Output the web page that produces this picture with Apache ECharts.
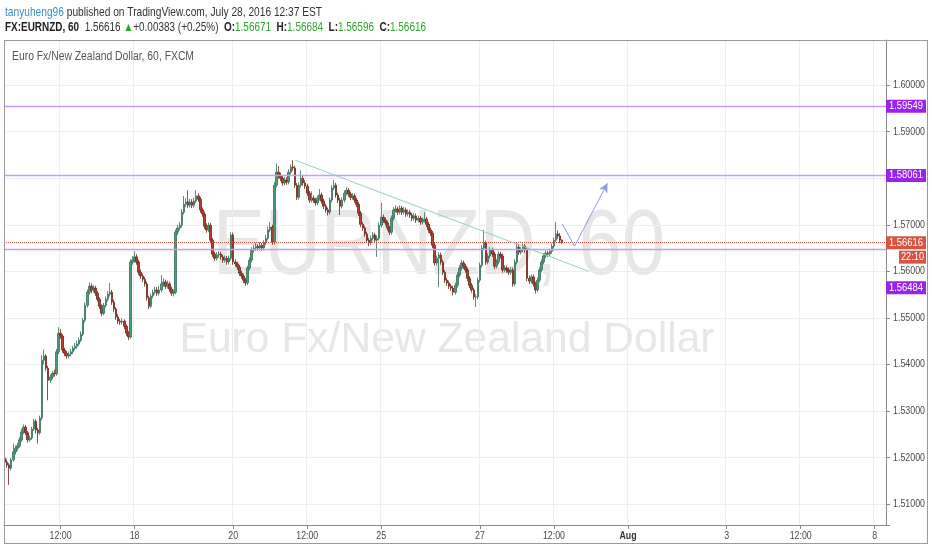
<!DOCTYPE html>
<html><head><meta charset="utf-8">
<script src="https://cdn.jsdelivr.net/npm/echarts@6/dist/echarts.min.js"></script>
<style>html,body{margin:0;padding:0;background:#fff}#c{width:932px;height:550px}</style>
</head><body><div id="c"></div>
<script>
// ---- data ----
const tradingDays = ['Jul 13','Jul 14','Jul 15','Jul 18','Jul 19','Jul 20','Jul 21','Jul 22','Jul 25','Jul 26','Jul 27','Jul 28','Jul 29','Aug 1','Aug 2','Aug 3','Aug 4','Aug 5','Aug 8'];
const firstDayStartHour = 9;
const lastDayEndHour = 5;
const xTickLabels = {'Jul 14 12:00':'12:00','Jul 18 00:00':'18','Jul 20 00:00':'20','Jul 21 12:00':'12:00','Jul 25 00:00':'25','Jul 27 00:00':'27','Jul 28 12:00':'12:00','Aug 1 00:00':'Aug','Aug 3 00:00':'3','Aug 4 12:00':'12:00','Aug 8 00:00':'8'};
const yTickValues = [1.51, 1.52, 1.53, 1.54, 1.55, 1.56, 1.57, 1.58, 1.59, 1.60];
// [open, close, low, high] hourly EUR/NZD
const candles = [
[1.5199,1.5190,1.5186,1.5204],[1.5190,1.5184,1.5178,1.5196],[1.5184,1.5177,1.5141,1.5188],[1.5177,1.5195,1.5172,1.5199],[1.5195,1.5212,1.5191,1.5230],
[1.5212,1.5220,1.5206,1.5226],[1.5220,1.5225,1.5214,1.5231],[1.5225,1.5238,1.5221,1.5244],[1.5238,1.5255,1.5233,1.5262],[1.5255,1.5265,1.5250,1.5271],
[1.5265,1.5253,1.5248,1.5270],[1.5253,1.5238,1.5232,1.5257],[1.5238,1.5242,1.5234,1.5247],[1.5242,1.5261,1.5238,1.5266],[1.5261,1.5278,1.5257,1.5283],
[1.5278,1.5259,1.5252,1.5282],[1.5259,1.5253,1.5230,1.5264],[1.5253,1.5285,1.5249,1.5290],[1.5285,1.5409,1.5280,1.5420],[1.5409,1.5418,1.5400,1.5432],
[1.5418,1.5392,1.5386,1.5422],[1.5392,1.5366,1.5323,1.5397],[1.5366,1.5373,1.5360,1.5379],[1.5373,1.5381,1.5368,1.5386],[1.5381,1.5380,1.5374,1.5389],
[1.5380,1.5427,1.5376,1.5433],[1.5427,1.5467,1.5422,1.5480],[1.5467,1.5461,1.5455,1.5476],[1.5461,1.5431,1.5425,1.5465],[1.5431,1.5424,1.5418,1.5436],
[1.5424,1.5418,1.5412,1.5429],[1.5418,1.5422,1.5413,1.5428],[1.5422,1.5427,1.5417,1.5433],[1.5427,1.5435,1.5422,1.5440],[1.5435,1.5439,1.5430,1.5446],
[1.5439,1.5444,1.5433,1.5451],[1.5444,1.5452,1.5440,1.5458],[1.5452,1.5465,1.5448,1.5471],[1.5465,1.5495,1.5461,1.5500],[1.5495,1.5527,1.5490,1.5533],
[1.5527,1.5555,1.5522,1.5561],[1.5555,1.5568,1.5550,1.5576],[1.5568,1.5560,1.5553,1.5574],[1.5560,1.5564,1.5555,1.5570],[1.5564,1.5553,1.5547,1.5569],
[1.5553,1.5540,1.5535,1.5558],[1.5540,1.5525,1.5519,1.5544],[1.5525,1.5510,1.5504,1.5529],[1.5510,1.5527,1.5506,1.5532],[1.5527,1.5540,1.5522,1.5546],
[1.5540,1.5551,1.5535,1.5558],[1.5551,1.5555,1.5546,1.5575],[1.5555,1.5534,1.5528,1.5560],[1.5534,1.5519,1.5513,1.5539],[1.5519,1.5502,1.5496,1.5523],
[1.5502,1.5493,1.5487,1.5508],[1.5493,1.5491,1.5485,1.5498],[1.5491,1.5493,1.5486,1.5499],[1.5493,1.5482,1.5476,1.5497],[1.5482,1.5467,1.5461,1.5486],
[1.5467,1.5459,1.5452,1.5472],[1.5459,1.5620,1.5455,1.5626],[1.5620,1.5624,1.5614,1.5633],[1.5624,1.5631,1.5618,1.5643],[1.5631,1.5620,1.5614,1.5637],
[1.5620,1.5598,1.5592,1.5625],[1.5598,1.5590,1.5584,1.5604],[1.5590,1.5583,1.5577,1.5595],[1.5583,1.5573,1.5567,1.5588],[1.5573,1.5543,1.5537,1.5578],
[1.5543,1.5525,1.5519,1.5548],[1.5525,1.5547,1.5521,1.5553],[1.5547,1.5555,1.5542,1.5561],[1.5555,1.5560,1.5550,1.5567],[1.5560,1.5553,1.5547,1.5566],
[1.5553,1.5560,1.5548,1.5569],[1.5560,1.5573,1.5555,1.5592],[1.5573,1.5577,1.5567,1.5585],[1.5577,1.5568,1.5562,1.5582],[1.5568,1.5573,1.5563,1.5580],
[1.5573,1.5562,1.5556,1.5578],[1.5562,1.5553,1.5547,1.5567],[1.5553,1.5555,1.5546,1.5561],[1.5555,1.5684,1.5551,1.5690],[1.5684,1.5693,1.5678,1.5700],
[1.5693,1.5699,1.5688,1.5706],[1.5699,1.5727,1.5694,1.5734],[1.5727,1.5744,1.5722,1.5762],[1.5744,1.5749,1.5738,1.5757],[1.5749,1.5742,1.5736,1.5774],
[1.5742,1.5749,1.5737,1.5756],[1.5749,1.5742,1.5736,1.5755],[1.5742,1.5751,1.5737,1.5758],[1.5751,1.5762,1.5746,1.5774],[1.5762,1.5755,1.5749,1.5768],
[1.5755,1.5732,1.5726,1.5760],[1.5732,1.5723,1.5717,1.5737],[1.5723,1.5697,1.5691,1.5728],[1.5697,1.5689,1.5683,1.5703],[1.5689,1.5699,1.5684,1.5705],
[1.5699,1.5667,1.5660,1.5704],[1.5667,1.5637,1.5631,1.5672],[1.5637,1.5628,1.5622,1.5642],[1.5628,1.5635,1.5623,1.5641],[1.5635,1.5637,1.5629,1.5643],
[1.5637,1.5631,1.5625,1.5642],[1.5631,1.5624,1.5618,1.5636],[1.5624,1.5628,1.5619,1.5634],[1.5628,1.5620,1.5614,1.5633],[1.5620,1.5628,1.5615,1.5634],
[1.5628,1.5678,1.5623,1.5684],[1.5678,1.5620,1.5614,1.5683],[1.5620,1.5616,1.5610,1.5626],[1.5616,1.5609,1.5603,1.5621],[1.5609,1.5596,1.5590,1.5614],
[1.5596,1.5590,1.5584,1.5601],[1.5590,1.5581,1.5575,1.5595],[1.5581,1.5575,1.5569,1.5586],[1.5575,1.5607,1.5570,1.5612],[1.5607,1.5624,1.5602,1.5630],
[1.5624,1.5646,1.5619,1.5652],[1.5646,1.5650,1.5640,1.5657],[1.5650,1.5654,1.5644,1.5661],[1.5654,1.5650,1.5644,1.5659],[1.5650,1.5656,1.5645,1.5663],
[1.5656,1.5650,1.5644,1.5661],[1.5650,1.5661,1.5645,1.5667],[1.5661,1.5671,1.5656,1.5678],[1.5671,1.5689,1.5666,1.5696],[1.5689,1.5695,1.5684,1.5706],
[1.5695,1.5663,1.5657,1.5700],[1.5663,1.5785,1.5658,1.5792],[1.5785,1.5813,1.5780,1.5832],[1.5813,1.5805,1.5799,1.5826],[1.5805,1.5800,1.5794,1.5812],
[1.5800,1.5790,1.5784,1.5806],[1.5790,1.5796,1.5785,1.5803],[1.5796,1.5792,1.5786,1.5802],[1.5792,1.5813,1.5787,1.5819],[1.5813,1.5824,1.5808,1.5830],
[1.5824,1.5822,1.5816,1.5839],[1.5822,1.5785,1.5779,1.5827],[1.5785,1.5759,1.5753,1.5790],[1.5759,1.5785,1.5754,1.5791],[1.5785,1.5800,1.5780,1.5817],
[1.5800,1.5790,1.5784,1.5806],[1.5790,1.5783,1.5777,1.5796],[1.5783,1.5768,1.5762,1.5788],[1.5768,1.5753,1.5747,1.5773],[1.5753,1.5757,1.5748,1.5772],
[1.5757,1.5753,1.5747,1.5763],[1.5753,1.5747,1.5741,1.5758],[1.5747,1.5757,1.5742,1.5763],[1.5757,1.5764,1.5752,1.5777],[1.5764,1.5751,1.5745,1.5769],
[1.5751,1.5740,1.5734,1.5756],[1.5740,1.5732,1.5726,1.5745],[1.5732,1.5727,1.5720,1.5737],[1.5727,1.5753,1.5722,1.5759],[1.5753,1.5779,1.5748,1.5785],
[1.5779,1.5785,1.5774,1.5796],[1.5785,1.5764,1.5758,1.5790],[1.5764,1.5753,1.5747,1.5769],[1.5753,1.5740,1.5721,1.5758],[1.5740,1.5753,1.5735,1.5759],
[1.5753,1.5768,1.5748,1.5774],[1.5768,1.5774,1.5763,1.5781],[1.5774,1.5766,1.5760,1.5779],[1.5766,1.5759,1.5753,1.5771],[1.5759,1.5762,1.5754,1.5768],
[1.5762,1.5753,1.5747,1.5767],[1.5753,1.5744,1.5738,1.5758],[1.5744,1.5725,1.5719,1.5749],[1.5725,1.5701,1.5695,1.5730],[1.5701,1.5693,1.5687,1.5706],
[1.5693,1.5680,1.5674,1.5698],[1.5680,1.5667,1.5661,1.5685],[1.5667,1.5661,1.5654,1.5672],[1.5661,1.5671,1.5656,1.5677],[1.5671,1.5678,1.5666,1.5684],
[1.5678,1.5667,1.5661,1.5683],[1.5667,1.5671,1.5631,1.5677],[1.5671,1.5699,1.5666,1.5705],[1.5699,1.5716,1.5694,1.5747],[1.5716,1.5710,1.5704,1.5722],
[1.5710,1.5704,1.5698,1.5716],[1.5704,1.5693,1.5687,1.5709],[1.5693,1.5684,1.5678,1.5698],[1.5684,1.5714,1.5679,1.5720],[1.5714,1.5732,1.5709,1.5738],
[1.5732,1.5734,1.5726,1.5742],[1.5734,1.5727,1.5721,1.5739],[1.5727,1.5736,1.5722,1.5742],[1.5736,1.5727,1.5721,1.5741],[1.5727,1.5732,1.5722,1.5738],
[1.5732,1.5723,1.5717,1.5737],[1.5723,1.5727,1.5718,1.5733],[1.5727,1.5721,1.5715,1.5732],[1.5721,1.5714,1.5708,1.5726],[1.5714,1.5719,1.5709,1.5725],
[1.5719,1.5710,1.5704,1.5724],[1.5710,1.5714,1.5705,1.5720],[1.5714,1.5706,1.5700,1.5719],[1.5706,1.5710,1.5701,1.5716],[1.5710,1.5712,1.5705,1.5727],
[1.5712,1.5701,1.5695,1.5717],[1.5701,1.5689,1.5683,1.5706],[1.5689,1.5682,1.5676,1.5694],[1.5682,1.5656,1.5650,1.5687],[1.5656,1.5618,1.5612,1.5661],
[1.5618,1.5628,1.5613,1.5634],[1.5628,1.5635,1.5566,1.5641],[1.5635,1.5620,1.5614,1.5640],[1.5620,1.5598,1.5592,1.5625],[1.5598,1.5581,1.5575,1.5603],
[1.5581,1.5575,1.5569,1.5586],[1.5575,1.5568,1.5562,1.5580],[1.5568,1.5564,1.5558,1.5573],[1.5564,1.5555,1.5548,1.5569],[1.5555,1.5570,1.5550,1.5576],
[1.5570,1.5592,1.5565,1.5598],[1.5592,1.5607,1.5587,1.5613],[1.5607,1.5618,1.5602,1.5624],[1.5618,1.5611,1.5605,1.5623],[1.5611,1.5603,1.5597,1.5616],
[1.5603,1.5585,1.5579,1.5608],[1.5585,1.5570,1.5564,1.5590],[1.5570,1.5560,1.5554,1.5575],[1.5560,1.5545,1.5539,1.5565],[1.5545,1.5545,1.5523,1.5551],
[1.5545,1.5581,1.5540,1.5587],[1.5581,1.5613,1.5576,1.5619],[1.5613,1.5650,1.5608,1.5656],[1.5650,1.5661,1.5645,1.5689],[1.5661,1.5620,1.5614,1.5666],
[1.5620,1.5633,1.5615,1.5639],[1.5633,1.5646,1.5628,1.5652],[1.5646,1.5637,1.5631,1.5651],[1.5637,1.5611,1.5605,1.5642],[1.5611,1.5620,1.5606,1.5626],
[1.5620,1.5637,1.5615,1.5643],[1.5637,1.5633,1.5627,1.5642],[1.5633,1.5603,1.5597,1.5638],[1.5603,1.5607,1.5598,1.5613],[1.5607,1.5603,1.5597,1.5612],
[1.5603,1.5598,1.5592,1.5608],[1.5598,1.5603,1.5593,1.5609],[1.5603,1.5573,1.5567,1.5608],[1.5573,1.5620,1.5568,1.5626],[1.5620,1.5652,1.5615,1.5661],
[1.5652,1.5641,1.5635,1.5657],[1.5641,1.5646,1.5636,1.5652],[1.5646,1.5654,1.5641,1.5660],[1.5654,1.5646,1.5640,1.5659],[1.5646,1.5585,1.5579,1.5651],
[1.5585,1.5579,1.5573,1.5591],[1.5579,1.5588,1.5574,1.5594],[1.5588,1.5573,1.5567,1.5593],[1.5573,1.5560,1.5553,1.5578],[1.5560,1.5581,1.5555,1.5587],
[1.5581,1.5603,1.5576,1.5609],[1.5603,1.5620,1.5598,1.5626],[1.5620,1.5633,1.5615,1.5639],[1.5633,1.5639,1.5628,1.5645],[1.5639,1.5637,1.5631,1.5644],
[1.5637,1.5643,1.5632,1.5649],[1.5643,1.5654,1.5638,1.5660],[1.5654,1.5667,1.5649,1.5673],[1.5667,1.5680,1.5662,1.5706],[1.5680,1.5676,1.5670,1.5688],
[1.5676,1.5667,1.5661,1.5682],[1.56671,1.56616,1.56596,1.56684]
];
const levelLines = [1.59549, 1.58061, 1.56484];
const lastPrice = 1.56616;
const barCountdown = '22:10';
// drawings: [category index, price]
const trendLine = [[141, 1.5839], [284, 1.5600]];
const arrowPath = [[271, 1.5702], [277, 1.5654], [293, 1.5789]];
const yMin = 1.5055, yMax = 1.6097;

// ---- build categories ----
const categories = [];
tradingDays.forEach((d, di) => {
  const h0 = di === 0 ? firstDayStartHour : 0;
  const h1 = di === tradingDays.length - 1 ? lastDayEndHour : 23;
  for (let h = h0; h <= h1; h++) categories.push(d + ' ' + String(h).padStart(2, '0') + ':00');
});
const isTick = (i) => xTickLabels[categories[i]] !== undefined;

// ---- fonts ----
const ctx = document.createElement('canvas').getContext('2d');
const BASE = "'Liberation Sans',Arial,sans-serif";
function measure(font, text) { ctx.font = font; return ctx.measureText(text).width; }
function richWidth(parts) { return parts.reduce((s, p) => s + measure(p[1], p[0]), 0); }
const F11 = '11px ' + BASE, B11 = 'bold 11px ' + BASE;
const AX = 32 / measure(F11, '1.60000');   // condensed axis type, as in the reference

const chart = echarts.init(document.getElementById('c'), null, {renderer: 'canvas'});
const purple = '#c99cf2';
const option = {
  animation: false,
  backgroundColor: '#ffffff',
  grid: {left: 4, right: 46, top: 40, bottom: 25, show: false},
  xAxis: {
    type: 'category', data: categories, boundaryGap: true,
    axisLine: {show: true, lineStyle: {color: '#8a8a8a'}},
    axisTick: {show: true, interval: (i) => isTick(i), alignWithLabel: true, length: 4, lineStyle: {color: '#8a8a8a'}},
    axisLabel: {show: false},
    splitLine: {show: true, interval: (i) => isTick(i), lineStyle: {color: '#eeeeee'}}
  },
  yAxis: {
    type: 'value', position: 'right', min: yMin, max: yMax, splitNumber: 10,
    axisLine: {show: true, lineStyle: {color: '#8a8a8a'}},
    axisTick: {show: true, length: 4, lineStyle: {color: '#8a8a8a'}},
    axisLabel: {show: false},
    splitLine: {show: true, lineStyle: {color: '#eeeeee'}}
  },
  series: [{
    type: 'candlestick', data: candles, barWidth: 2,
    itemStyle: {color: '#4f9a79', color0: '#b2402e', borderColor: '#35705a', borderColor0: '#6e2418', borderWidth: 0.8},
    z: 3,
    markLine: {
      silent: true, symbol: ['none', 'none'], animation: false, precision: 5, label: {show: false},
      data: [
        ...levelLines.map((v) => ({yAxis: v, lineStyle: {color: purple, width: 1.3, type: 'solid'}})),
        {yAxis: lastPrice, lineStyle: {color: '#d75442', width: 1, type: 'dotted'}},
        [{coord: trendLine[0], lineStyle: {color: '#8fd4bf', width: 1, type: 'solid'}}, {coord: trendLine[1]}],
        [{coord: arrowPath[0], lineStyle: {color: '#8f9ad8', width: 1, type: 'solid'}}, {coord: arrowPath[1]}],
        [{coord: arrowPath[1], symbol: 'none', lineStyle: {color: '#8f9ad8', width: 1, type: 'solid'}}, {coord: arrowPath[2], symbol: 'arrow', symbolSize: [7, 9]}]
      ]
    }
  }]
};
chart.setOption(option);

// ---- texts (scaled horizontally to the reference's condensed type) ----
const F13 = '13px ' + BASE, F12 = '12px ' + BASE, B12 = 'bold 12px ' + BASE;
const line1 = [['tanyuheng96', F13], [' published on TradingView.com, July 28, 2016 12:37 EST', F13]];
const line2 = [['FX:EURNZD, 60', B12], ['  1.56616 ', F12], ['▲', F12], ['+0.00383 (+0.25%)  ', F12], ['O:', B12], ['1.56671', F12],
  ['  H:', B12], ['1.56684', F12], ['  L:', B12], ['1.56596', F12], ['  C:', B12], ['1.56616', F12]];
const s1 = 317 / richWidth(line1), s2 = 421 / richWidth(line2);
const s3 = 182 / measure(F12, 'Euro Fx/New Zealand Dollar, 60, FXCM');
const WM1 = '92px ' + BASE, WM2 = '42px ' + BASE;
const sw1 = 452 / measure(WM1, 'EURNZD, 60'), sw2 = 535 / measure(WM2, 'Euro Fx/New Zealand Dollar');

const px = (v) => chart.convertToPixel({yAxisIndex: 0}, v);
const graphics = [
  {type: 'text', z: -10, silent: true, x: 439, y: 249, scaleX: sw1, style: {text: 'EURNZD, 60', x: 0, y: 0, align: 'center', verticalAlign: 'middle',
    font: WM1, fill: '#e7e7e7'}},
  {type: 'text', z: -10, silent: true, x: 447, y: 340, scaleX: sw2, style: {text: 'Euro Fx/New Zealand Dollar', x: 0, y: 0, align: 'center', verticalAlign: 'middle',
    font: WM2, fill: '#e7e7e7'}},
  {type: 'text', z: 10, x: 12, y: 57, scaleX: s3, style: {x: 0, y: 0, text: 'Euro Fx/New Zealand Dollar, 60, FXCM', verticalAlign: 'middle', font: F12, fill: '#555'}},
  {type: 'text', z: 10, x: 5, y: 12, scaleX: s1, style: {x: 0, y: 0, verticalAlign: 'middle',
    text: '{u|tanyuheng96}{n| published on TradingView.com, July 28, 2016 12:37 EST}',
    rich: {u: {fill: '#3d8fca', font: F13}, n: {fill: '#333', font: F13}}}},
  {type: 'text', z: 10, x: 5, y: 28, scaleX: s2, style: {x: 0, y: 0, verticalAlign: 'middle',
    text: '{b|FX:EURNZD, 60}{n|  1.56616 }{g|▲}{n|+0.00383 (+0.25%)  }{b|O:}{g|1.56671}{b|  H:}{g|1.56684}{b|  L:}{g|1.56596}{b|  C:}{g|1.56616}',
    rich: {b: {fill: '#222', font: B12}, n: {fill: '#333', font: F12}, g: {fill: '#2ea52e', font: F12}}}}
];
// y tick labels
yTickValues.forEach((v) => graphics.push({type: 'text', z: 5, x: 893, y: px(v), scaleX: AX,
  style: {x: 0, y: 0, text: v.toFixed(5), verticalAlign: 'middle', font: F11, fill: '#4a4a4a'}}));
// x tick labels
categories.forEach((c, i) => {
  if (!isTick(i)) return;
  const lab = xTickLabels[c];
  graphics.push({type: 'text', z: 5, x: chart.convertToPixel({xAxisIndex: 0}, i), y: 536, scaleX: 0.8,
    style: {x: 0, y: 0, text: lab, align: 'center', verticalAlign: 'middle', font: lab === 'Aug' ? B11 : F11, fill: lab === 'Aug' ? '#333' : '#4a4a4a'}});
});
// price boxes on the scale
const boxes = levelLines.map((v, k) => ({v: v, y: px(v) + (k === 2 ? 39 : 0), bg: '#9b22ee'}));
boxes.push({v: lastPrice, y: px(lastPrice), bg: '#d75442'});
boxes.forEach((b) => {
  graphics.push({type: 'rect', z: 12, shape: {x: 886, y: b.y - 6.5, width: 40, height: 13}, style: {fill: b.bg}});
  graphics.push({type: 'text', z: 13, x: 889, y: b.y, scaleX: 34 / measure(F11, '1.59549'),
    style: {x: 0, y: 0, text: b.v.toFixed(5), verticalAlign: 'middle', font: F11, fill: '#fff'}});
});
const yLast = px(lastPrice);
graphics.push({type: 'rect', z: 12, shape: {x: 899, y: yLast + 8, width: 27, height: 13}, style: {fill: '#d75442'}});
graphics.push({type: 'text', z: 13, x: 912.5, y: yLast + 14.5, scaleX: 23 / measure(F11, barCountdown),
  style: {x: 0, y: 0, text: barCountdown, align: 'center', verticalAlign: 'middle', font: F11, fill: '#fff'}});
// frame
graphics.push(
  {type: 'line', z: 10, shape: {x1: 4, y1: 40.5, x2: 928, y2: 40.5}, style: {stroke: '#9a9a9a', lineWidth: 1}},
  {type: 'line', z: 10, shape: {x1: 4.5, y1: 40, x2: 4.5, y2: 544}, style: {stroke: '#9a9a9a', lineWidth: 1}},
  {type: 'line', z: 10, shape: {x1: 4, y1: 543.5, x2: 928, y2: 543.5}, style: {stroke: '#9a9a9a', lineWidth: 1}},
  {type: 'line', z: 10, shape: {x1: 927.5, y1: 40, x2: 927.5, y2: 544}, style: {stroke: '#9a9a9a', lineWidth: 1}}
);
chart.setOption({graphic: graphics});
</script></body></html>
